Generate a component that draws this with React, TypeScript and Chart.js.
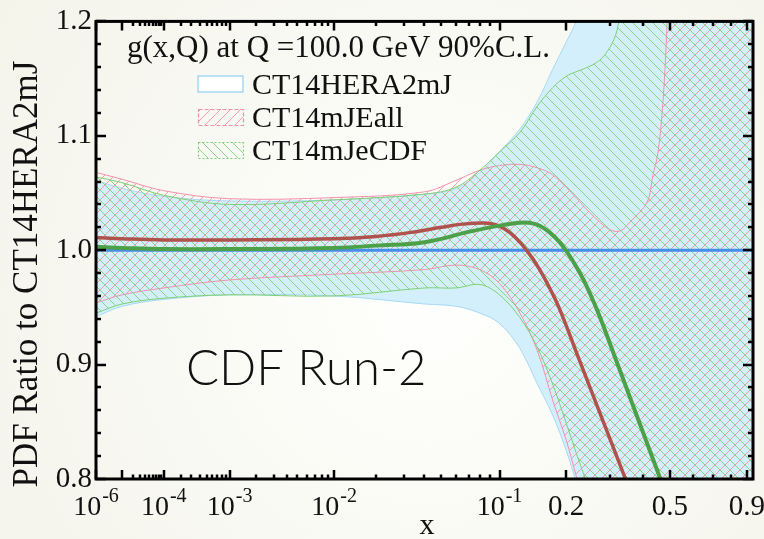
import React, { useEffect, useRef } from 'react';
import { Chart, registerables } from 'chart.js';

Chart.register(...registerables);

// ---------------- data ----------------
// x-axis uses a x^0.2 mapping (log-like at small x, linear-like at large x)
const X_POWER = 0.2;
const X_MIN = 1e-6;
const X_MAX = 0.94;
const Y_MIN = 0.8;
const Y_MAX = 1.2;

// CT14HERA2mJ band (light blue)
const heraX = [1e-6, 1e-5, 1e-4, 1e-3, 1e-2, 0.04, 0.06, 0.08, 0.1, 0.125, 0.15, 0.175, 0.2, 0.22, 0.25, 0.3, 0.4, 0.5, 0.7, 0.94];
const heraUp = [1.061, 1.054, 1.047, 1.043, 1.044, 1.049, 1.054, 1.068, 1.086, 1.106, 1.13, 1.158, 1.182, 1.2, 1.24, 1.33, 1.5, 1.7, 2.0, 2.4];
const heraLo = [0.942, 0.951, 0.957, 0.961, 0.96, 0.953, 0.951, 0.945, 0.936, 0.914, 0.883, 0.856, 0.825, 0.797, 0.75, 0.66, 0.5, 0.4, 0.2, 0.0];
const heraCX = [1e-6, 0.94];
const heraC = [1.0, 1.0];

// CT14mJEall band (pink hatch)
const eallX = [1e-6, 1e-5, 1e-4, 1e-3, 1e-2, 0.04, 0.06, 0.08, 0.1, 0.125, 0.15, 0.175, 0.2, 0.22, 0.25, 0.3, 0.33, 0.36, 0.415, 0.435, 0.454, 0.473, 0.487, 0.5, 0.6, 0.94];
const eallUp = [1.068, 1.062, 1.052, 1.045, 1.046, 1.051, 1.061, 1.07, 1.074, 1.075, 1.072, 1.066, 1.055, 1.046, 1.033, 1.018, 1.017, 1.025, 1.042, 1.065, 1.085, 1.129, 1.187, 1.26, 1.6, 2.0];
const eallLo = [0.954, 0.961, 0.967, 0.974, 0.979, 0.983, 0.987, 0.983, 0.971, 0.945, 0.912, 0.869, 0.834, 0.803, 0.76, 0.68, 0.63, 0.58, 0.5, 0.47, 0.45, 0.42, 0.4, 0.38, 0.25, 0.0];
const eallCX = [1e-6, 1e-5, 1e-4, 1e-3, 1e-2, 0.02, 0.035, 0.05, 0.065, 0.0845, 0.0948, 0.106, 0.118, 0.134, 0.1536, 0.1788, 0.1972, 0.2172, 0.25, 0.2869, 0.3427, 0.39];
const eallC = [1.011, 1.01, 1.009, 1.009, 1.01, 1.012, 1.016, 1.02, 1.0228, 1.0238, 1.0225, 1.0185, 1.0117, 1.0001, 0.9831, 0.9579, 0.9374, 0.9145, 0.8807, 0.8469, 0.8017, 0.768];

// CT14mJeCDF band (green hatch)
const ecdfX = [1e-6, 1e-5, 1e-4, 1e-3, 1e-2, 0.04, 0.06, 0.08, 0.1, 0.125, 0.15, 0.175, 0.2, 0.22, 0.24, 0.274, 0.3, 0.32, 0.34, 0.4, 0.94];
const ecdfUp = [1.064, 1.059, 1.048, 1.04, 1.044, 1.049, 1.055, 1.07, 1.086, 1.103, 1.126, 1.142, 1.152, 1.156, 1.159, 1.166, 1.177, 1.192, 1.23, 1.4, 2.0];
const ecdfLo = [0.945, 0.953, 0.958, 0.961, 0.96, 0.967, 0.967, 0.97, 0.961, 0.941, 0.915, 0.883, 0.849, 0.823, 0.8, 0.76, 0.72, 0.69, 0.66, 0.55, 0.0];
const ecdfCX = [1e-6, 1e-5, 1e-4, 1e-3, 1e-2, 0.02, 0.04, 0.07, 0.1, 0.1314, 0.1536, 0.1788, 0.1992, 0.2278, 0.2501, 0.2742, 0.314, 0.358, 0.4069, 0.4609, 0.5206];
const ecdfC = [1.003, 1.002, 1.001, 1.001, 1.002, 1.004, 1.007, 1.016, 1.0215, 1.0243, 1.0214, 1.0115, 1.0, 0.9802, 0.9626, 0.942, 0.9069, 0.8718, 0.8366, 0.8015, 0.7663];

// axis ticks
const xMajorTicks = [1e-6, 1e-5, 1e-4, 1e-3, 1e-2, 0.1, 0.2, 0.5, 0.9];
const xMinorTicks = [
  2e-5, 3e-5, 4e-5, 5e-5, 6e-5, 7e-5, 8e-5, 9e-5,
  2e-4, 3e-4, 4e-4, 5e-4, 6e-4, 7e-4, 8e-4, 9e-4,
  2e-3, 3e-3, 4e-3, 5e-3, 6e-3, 7e-3, 8e-3, 9e-3,
  0.02, 0.03, 0.04, 0.05, 0.06, 0.07, 0.08, 0.09,
  0.3, 0.4, 0.6, 0.7, 0.8,
];
const xLabelValues = [1e-6, 1e-4, 1e-3, 1e-2, 0.1, 0.2, 0.5, 0.9];
const xLabelBases = ['10', '10', '10', '10', '10', '0.2', '0.5', '0.9'];
const xLabelExps = ['-6', '-4', '-3', '-2', '-1', '', '', ''];
const yMajorTicks = [0.8, 0.9, 1.0, 1.1, 1.2];
const yMinorTicks = [0.82, 0.84, 0.86, 0.88, 0.92, 0.94, 0.96, 0.98, 1.02, 1.04, 1.06, 1.08, 1.12, 1.14, 1.16, 1.18];

const legendTitle = 'g(x,Q) at Q =100.0 GeV 90%C.L.';
const seriesNames = ['CT14HERA2mJ', 'CT14mJEall', 'CT14mJeCDF'];
const yTitle = 'PDF Ratio to CT14HERA2mJ';
const xTitle = 'x';
const runLabel = 'CDF Run-2';

// ---------------- styles ----------------
const SERIF = '"Liberation Serif", "Times New Roman", serif';
const BLUE_FILL = 'rgb(212,239,252)';
const BLUE_EDGE = 'rgb(165,217,244)';
const BLUE_LINE = 'rgb(70,142,232)';
const PINK = 'rgb(242,145,170)';
const RED_LINE = 'rgb(176,82,76)';
const GREEN = 'rgb(126,208,116)';
const GREEN_LINE = 'rgb(76,160,72)';

const tx = (x: number) => Math.pow(x, X_POWER);

function makeHatch(ctx: CanvasRenderingContext2D, color: string, slash: boolean, size = 10) {
  const c = document.createElement('canvas');
  c.width = size;
  c.height = size;
  const g = c.getContext('2d')!;
  g.strokeStyle = color;
  g.lineWidth = 0.9;
  g.beginPath();
  if (slash) {
    g.moveTo(-1, size + 1); g.lineTo(size + 1, -1);
    g.moveTo(-2, 2); g.lineTo(2, -2);
    g.moveTo(size - 2, size + 2); g.lineTo(size + 2, size - 2);
  } else {
    g.moveTo(-1, -1); g.lineTo(size + 1, size + 1);
    g.moveTo(size - 2, -2); g.lineTo(size + 2, 2);
    g.moveTo(-2, size - 2); g.lineTo(2, size + 2);
  }
  g.stroke();
  return ctx.createPattern(c, 'repeat')!;
}

export default function App() {
  const ref = useRef<HTMLCanvasElement>(null);

  useEffect(() => {
    const canvas = ref.current!;
    const ctx0 = canvas.getContext('2d')!;
    const pinkPat = makeHatch(ctx0, PINK, true);
    const greenPat = makeHatch(ctx0, GREEN, false);

    const pts = (xs: number[], ys: number[]) => xs.map((x, i) => ({ x: tx(x), y: ys[i] }));
    const band = (xs: number[], up: number[], lo: number[], edge: string, fill: any, order: number) => [
      { data: pts(xs, up), borderColor: edge, borderWidth: 1, fill: false, order },
      { data: pts(xs, lo), borderColor: edge, borderWidth: 1, fill: '-1', backgroundColor: fill, order },
    ];

    const decor = {
      id: 'decor',
      beforeDraw(chart: any) {
        const { ctx, width, height } = chart;
        ctx.save();
        ctx.fillStyle = '#f5f5ec';
        ctx.fillRect(0, 0, width, height);
        const g = ctx.createRadialGradient(430, 300, 40, 430, 300, 560);
        g.addColorStop(0, '#fefefc');
        g.addColorStop(1, '#f3f3e9');
        ctx.fillStyle = g;
        ctx.fillRect(0, 0, width, height);
        ctx.restore();
      },
      afterDatasetsDraw(chart: any) {
        const { ctx, chartArea: a } = chart;
        const xs = chart.scales.x;
        const ys = chart.scales.y;
        ctx.save();
        ctx.strokeStyle = '#000';
        ctx.lineWidth = 2.5;
        ctx.beginPath();
        const xt = (v: number, len: number) => {
          const p = Math.round(xs.getPixelForValue(tx(v)));
          ctx.moveTo(p, a.bottom); ctx.lineTo(p, a.bottom - len);
          ctx.moveTo(p, a.top); ctx.lineTo(p, a.top + len);
        };
        const yt = (v: number, len: number) => {
          const p = Math.round(ys.getPixelForValue(v));
          ctx.moveTo(a.left, p); ctx.lineTo(a.left + len, p);
          ctx.moveTo(a.right, p); ctx.lineTo(a.right - len, p);
        };
        xMajorTicks.forEach((v) => xt(v, 9));
        xMinorTicks.forEach((v) => xt(v, 4.5));
        yMajorTicks.forEach((v) => yt(v, 10));
        yMinorTicks.forEach((v) => yt(v, 5));
        ctx.stroke();
        ctx.lineWidth = 3;
        ctx.strokeRect(a.left, a.top, a.right - a.left, a.bottom - a.top);
        ctx.restore();
      },
      afterDraw(chart: any) {
        const { ctx } = chart;
        const xs = chart.scales.x;
        ctx.save();
        ctx.fillStyle = '#111';
        ctx.textBaseline = 'alphabetic';
        ctx.textAlign = 'left';
        // x tick labels with superscripts
        xLabelValues.forEach((v, i) => {
          const p = xs.getPixelForValue(tx(v));
          const base = xLabelBases[i];
          const exp = xLabelExps[i];
          ctx.font = `${exp ? 28 : 29}px ${SERIF}`;
          const wb = ctx.measureText(base).width;
          ctx.font = `20px ${SERIF}`;
          const we = exp ? ctx.measureText(exp).width + 1 : 0;
          const start = p - (wb + we) / 2;
          ctx.font = `${exp ? 28 : 29}px ${SERIF}`;
          ctx.fillText(base, start, 515);
          if (exp) {
            ctx.font = `20px ${SERIF}`;
            ctx.fillText(exp, start + wb + 1, 502);
          }
        });
        // axis titles
        ctx.font = `30px ${SERIF}`;
        ctx.textAlign = 'center';
        ctx.fillText(xTitle, 427, 534);
        ctx.save();
        ctx.translate(37, 274);
        ctx.rotate(-Math.PI / 2);
        ctx.font = `35px ${SERIF}`;
        ctx.fillText(yTitle, 0, 0);
        ctx.restore();
        // legend
        ctx.textAlign = 'left';
        ctx.font = `31px ${SERIF}`;
        ctx.fillText(legendTitle, 127, 57);
        const rowBase = [94, 127, 160];
        const bx = 198, bw = 45, bh = 16;
        rowBase.forEach((b, i) => {
          const by = b - 18;
          ctx.save();
          if (i === 0) {
            ctx.fillStyle = '#ffffff';
            ctx.fillRect(bx, by, bw, bh);
            ctx.strokeStyle = BLUE_EDGE;
            ctx.lineWidth = 1.5;
            ctx.strokeRect(bx, by, bw, bh);
          } else {
            ctx.fillStyle = i === 1 ? pinkPat : greenPat;
            ctx.fillRect(bx, by, bw, bh);
            ctx.strokeStyle = i === 1 ? PINK : GREEN;
            ctx.lineWidth = 1.2;
            ctx.setLineDash(i === 1 ? [4, 2] : [2, 2]);
            ctx.strokeRect(bx + 0.5, by + 0.5, bw, bh);
          }
          ctx.restore();
          ctx.fillStyle = '#111';
          ctx.font = `30px ${SERIF}`;
          ctx.fillText(seriesNames[i], 252, b);
        });
        // run label
        ctx.font = `300 49px Lato, "Open Sans", sans-serif`;
        ctx.fillStyle = '#111';
        ctx.fillText(runLabel, 186, 385);
        ctx.restore();
      },
    };

    const chart = new Chart(canvas, {
      type: 'line',
      data: {
        datasets: [
          ...band(heraX, heraUp, heraLo, BLUE_EDGE, BLUE_FILL, 60),
          ...band(eallX, eallUp, eallLo, PINK, pinkPat, 50),
          ...band(ecdfX, ecdfUp, ecdfLo, GREEN, greenPat, 40),
          { data: pts(heraCX, heraC), borderColor: BLUE_LINE, borderWidth: 3, fill: false, order: 30 },
          { data: pts(eallCX, eallC), borderColor: RED_LINE, borderWidth: 3.5, fill: false, order: 20, tension: 0.4 },
          { data: pts(ecdfCX, ecdfC), borderColor: GREEN_LINE, borderWidth: 4, fill: false, order: 10, tension: 0.4 },
        ] as any,
      },
      options: {
        responsive: false,
        animation: false,
        devicePixelRatio: 1,
        layout: { padding: { left: 0, right: 11, top: 18, bottom: 0 } },
        plugins: { legend: { display: false }, tooltip: { enabled: false } },
        elements: {
          point: { radius: 0 },
          line: { tension: 0.35, capBezierPoints: false },
        },
        scales: {
          x: {
            type: 'linear',
            min: tx(X_MIN),
            max: tx(X_MAX),
            ticks: { display: false },
            grid: { display: false },
            border: { display: false },
            afterFit: (s: any) => { s.height = 60; },
          },
          y: {
            type: 'linear',
            min: Y_MIN,
            max: Y_MAX,
            ticks: {
              stepSize: 0.1,
              padding: 4,
              color: '#111',
              font: { family: SERIF, size: 29 },
              callback: (v: any) => Number(v).toFixed(1),
            },
            grid: { display: false, drawTicks: false },
            border: { display: false },
            afterFit: (s: any) => { s.width = 96; },
          },
        },
      } as any,
      plugins: [decor],
    });
    return () => chart.destroy();
  }, []);

  return (
    <div style={{ position: 'fixed', left: 0, top: 0, width: 764, height: 539 }}>
      <canvas ref={ref} width={764} height={539} style={{ display: 'block', width: 764, height: 539 }} />
    </div>
  );
}
